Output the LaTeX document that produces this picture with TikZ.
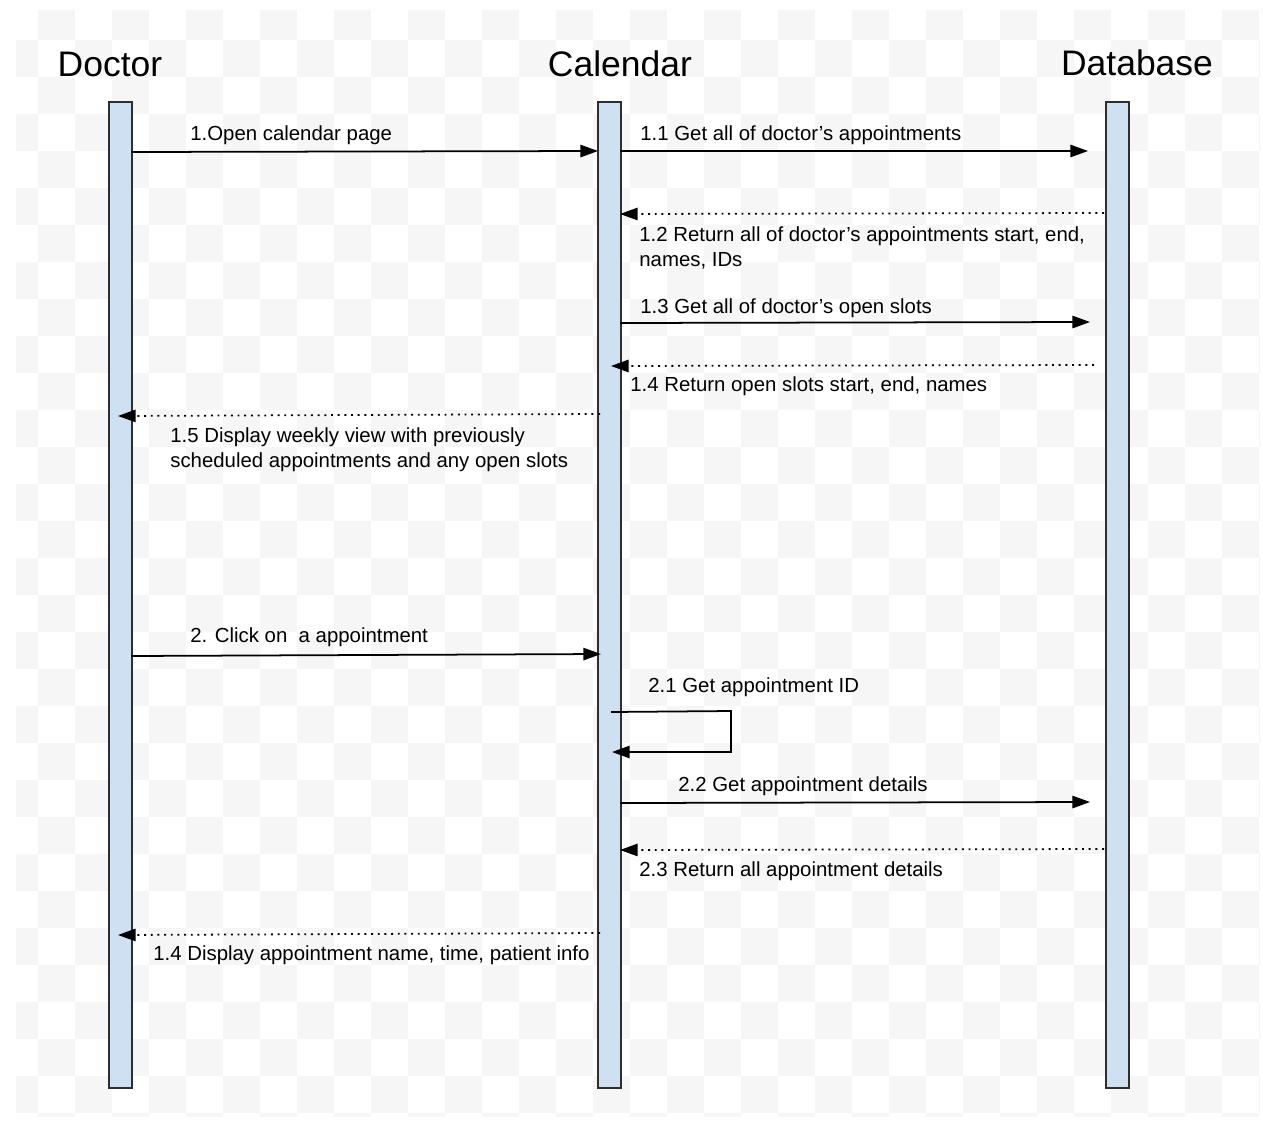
\documentclass[tikz,border=0pt]{standalone}
\usepackage{fontspec}
\setmainfont{Liberation Sans}
\usetikzlibrary{arrows.meta}

\definecolor{barblue}{HTML}{CFE0F2}
\definecolor{bardark}{HTML}{2E2E2E}
\definecolor{checkgray}{HTML}{F6F6F6}

\tikzset{
    lifeline/.style={draw=bardark, line width=1.1pt, fill=barblue, anchor=north west,
        minimum width=0.46cm, minimum height=19.72cm, inner sep=0pt},
    actor/.style={anchor=base, inner sep=0pt, font=\fontsize{20.2}{24}\selectfont},
    msg/.style={anchor=base west, inner sep=0pt, align=left,
        font=\fontsize{11.6}{14.2}\selectfont},
    call/.style={line width=1pt, -{Triangle[length=10pt,width=7pt]}},
    reply/.style={line width=1pt, dash pattern=on 1.1pt off 2.7pt,
        -{Triangle[length=10pt,width=7pt]}}
}

\begin{document}
\begin{tikzpicture}[x=0.02cm, y=-0.02cm]
    \useasboundingbox (0,0) rectangle (1263,1122);

    \begin{scope}
        \clip (16,11) rectangle (1260,1116);
        \foreach \i in {0,...,34} \foreach \j in {0,...,30} {
            \ifodd\numexpr\i+\j\relax
                \fill[checkgray] ({1+37*\i},{3+37*\j}) rectangle +(37,37);
            \fi
        }
    \end{scope}

    \node[actor] (doctor)   at (110,76)  {Doctor};
    \node[actor] (calendar) at (620,76)  {Calendar};
    \node[actor] (database) at (1137,75) {Database};

    \node[lifeline] (doc) at (108,101)  {};
    \node[lifeline] (cal) at (597,101)  {};
    \node[lifeline] (db)  at (1105,101) {};

    \coordinate (m1a) at (131,152);  \coordinate (m1b) at (598,151);
    \coordinate (m11a) at (620,151); \coordinate (m11b) at (1088,151);
    \coordinate (m12a) at (1104,213); \coordinate (m12b) at (620,214);
    \coordinate (m13a) at (620,323); \coordinate (m13b) at (1090,322);
    \coordinate (m14a) at (1094,365); \coordinate (m14b) at (611,366);
    \coordinate (m15a) at (600,414); \coordinate (m15b) at (118,416);
    \coordinate (m2a) at (131,656);  \coordinate (m2b) at (601,654);
    \coordinate (m21a) at (611,712); \coordinate (m21c) at (731,711);
    \coordinate (m21d) at (731,752); \coordinate (m21b) at (612,752);
    \coordinate (m22a) at (620,803); \coordinate (m22b) at (1090,802);
    \coordinate (m23a) at (1104,849); \coordinate (m23b) at (620,850);
    \coordinate (m24a) at (600,933); \coordinate (m24b) at (118,935);

    \draw[call]  (m1a) -- (m1b);
    \draw[call]  (m11a) -- (m11b);
    \draw[reply] (m12a) -- (m12b);
    \draw[call]  (m13a) -- (m13b);
    \draw[reply] (m14a) -- (m14b);
    \draw[reply] (m15a) -- (m15b);
    \draw[call]  (m2a) -- (m2b);
    \draw[call]  (m21a) -- (m21c) -- (m21d) -- (m21b);
    \draw[call]  (m22a) -- (m22b);
    \draw[reply] (m23a) -- (m23b);
    \draw[reply] (m24a) -- (m24b);

    \node[msg] (t1)  at (190,140) {1.Open calendar page};
    \node[msg] (t11) at (640,140) {1.1 Get all of doctor’s appointments};
    \node[msg] (t12) at (639,266) {1.2 Return all of doctor’s appointments start, end,\\names, IDs};
    \node[msg] (t13) at (640,313) {1.3 Get all of doctor’s open slots};
    \node[msg] (t14) at (630,391) {1.4 Return open slots start, end, names};
    \node[msg] (t15) at (170,467) {1.5 Display weekly view with previously\\scheduled appointments and any open slots};
    \node[msg] (t2)  at (190,642) {2. Click on\ \ a appointment};
    \node[msg] (t21) at (648,692) {2.1 Get appointment ID};
    \node[msg] (t22) at (678,791) {2.2 Get appointment details};
    \node[msg] (t23) at (639,876) {2.3 Return all appointment details};
    \node[msg] (t24) at (153,960) {1.4 Display appointment name, time, patient info};
\end{tikzpicture}
\end{document}
